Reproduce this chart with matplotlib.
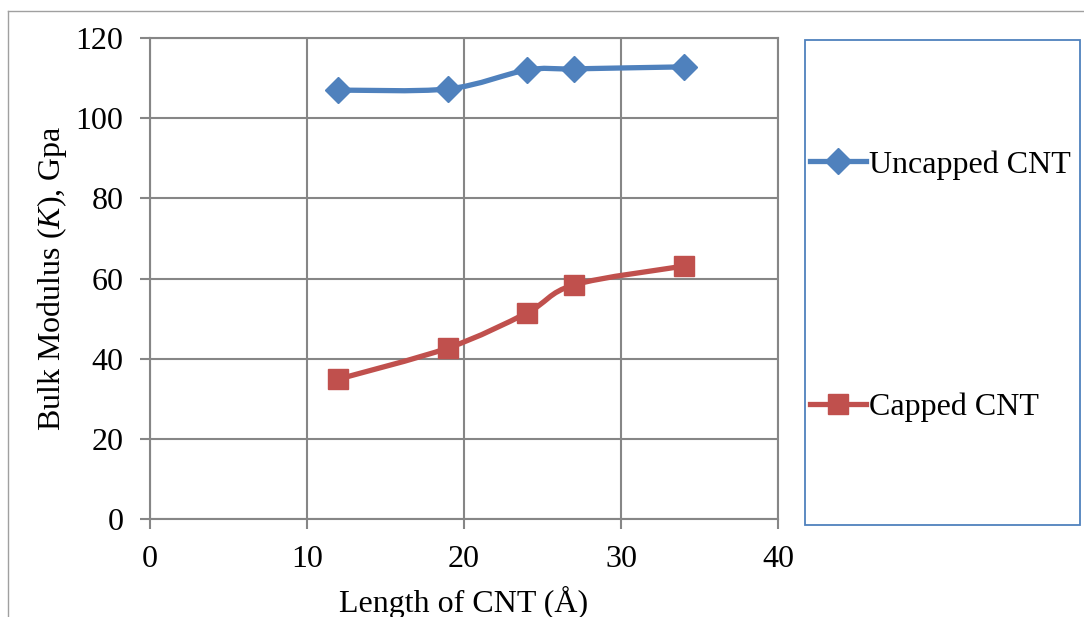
#!/usr/bin/env python3

import matplotlib
matplotlib.use('Agg')
import matplotlib.pyplot as plt
from matplotlib.path import Path
from matplotlib.patches import PathPatch, Rectangle
from matplotlib.lines import Line2D
import numpy as np

# length of CNT (angstrom) and bulk modulus (GPa)
length = [12, 19, 24, 27, 34]
uncapped = [107.0, 107.3, 112.0, 112.3, 112.8]
capped = [34.9, 42.7, 51.4, 58.4, 63.1]

x_ticks = [0, 10, 20, 30, 40]
y_ticks = [0, 20, 40, 60, 80, 100, 120]

BLUE = '#4F81BD'
RED = '#C0504D'
GRID = '#868686'
FS = 23

plt.rcParams['font.family'] = ['Liberation Serif', 'DejaVu Serif']
plt.rcParams['mathtext.fontset'] = 'custom'
plt.rcParams['mathtext.it'] = 'Liberation Serif:italic'
plt.rcParams['mathtext.rm'] = 'Liberation Serif'


def smooth_path(xs, ys):
    # excel style smoothed line: cubic bezier through every point
    pts = np.column_stack([xs, ys]).astype(float)
    n = len(pts)
    verts = [pts[0]]
    codes = [Path.MOVETO]
    for i in range(n - 1):
        p0 = pts[i - 1] if i > 0 else pts[i]
        p1 = pts[i]
        p2 = pts[i + 1]
        p3 = pts[i + 2] if i + 2 < n else pts[i + 1]
        c1 = p1 + (p2 - p0) / 6.0
        c2 = p2 - (p3 - p1) / 6.0
        verts += [c1, c2, p2]
        codes += [Path.CURVE4] * 3
    return Path(verts, codes)


fig = plt.figure(figsize=(10.84, 6.17), dpi=100)
ax = fig.add_axes([150 / 1084, 1 - 519 / 617, 628 / 1084, 481 / 617])

for ys, color, marker, ms in [(uncapped, BLUE, 'D', 13), (capped, RED, 's', 15)]:
    ax.add_patch(PathPatch(smooth_path(length, ys), facecolor='none',
                           edgecolor=color, lw=3.8, capstyle='round', zorder=3))
    ax.plot(length, ys, ls='none', marker=marker, ms=ms, color=color, zorder=4)

ax.set_xlim(0, 40)
ax.set_ylim(0, 120)
ax.set_xticks(x_ticks)
ax.set_yticks(y_ticks)
ax.grid(True, color=GRID, lw=1.5)
ax.set_axisbelow(True)
for s in ax.spines.values():
    s.set_color(GRID)
    s.set_linewidth(1.5)
ax.tick_params(colors=GRID, width=1.5, length=7, labelsize=FS, labelcolor='black')
ax.tick_params(axis='x', pad=12)
ax.tick_params(axis='y', pad=12)

ax.set_xlabel('Length of CNT (Å)', fontsize=FS, labelpad=8)
ax.set_ylabel('Bulk Modulus ($\\mathit{K}$), Gpa', fontsize=FS, labelpad=5)

# legend box
fig.add_artist(Rectangle((805 / 1084, 1 - 525 / 617), 275 / 1084, 485 / 617,
                         transform=fig.transFigure, facecolor='none',
                         edgecolor=BLUE, lw=1.3))
handles = [Line2D([], [], color=BLUE, lw=3.8, marker='D', ms=13),
           Line2D([], [], color=RED, lw=3.8, marker='s', ms=15)]
fig.legend(handles, ['Uncapped CNT', 'Capped CNT'], loc='upper left',
           bbox_to_anchor=(810 / 1084, 1 - 150 / 617), frameon=False,
           fontsize=FS, handlelength=1.75, handletextpad=0.1,
           labelspacing=6.68, borderpad=0, borderaxespad=0)

# outer chart border, cut by the picture edge
fig.add_artist(Line2D([8 / 1084, 1], [1 - 11 / 617, 1 - 11 / 617],
                      transform=fig.transFigure, color='#A0A0A0', lw=1))
fig.add_artist(Line2D([8 / 1084, 8 / 1084], [0, 1 - 11 / 617],
                      transform=fig.transFigure, color='#A0A0A0', lw=1))

plt.savefig('out.png', dpi=100)
